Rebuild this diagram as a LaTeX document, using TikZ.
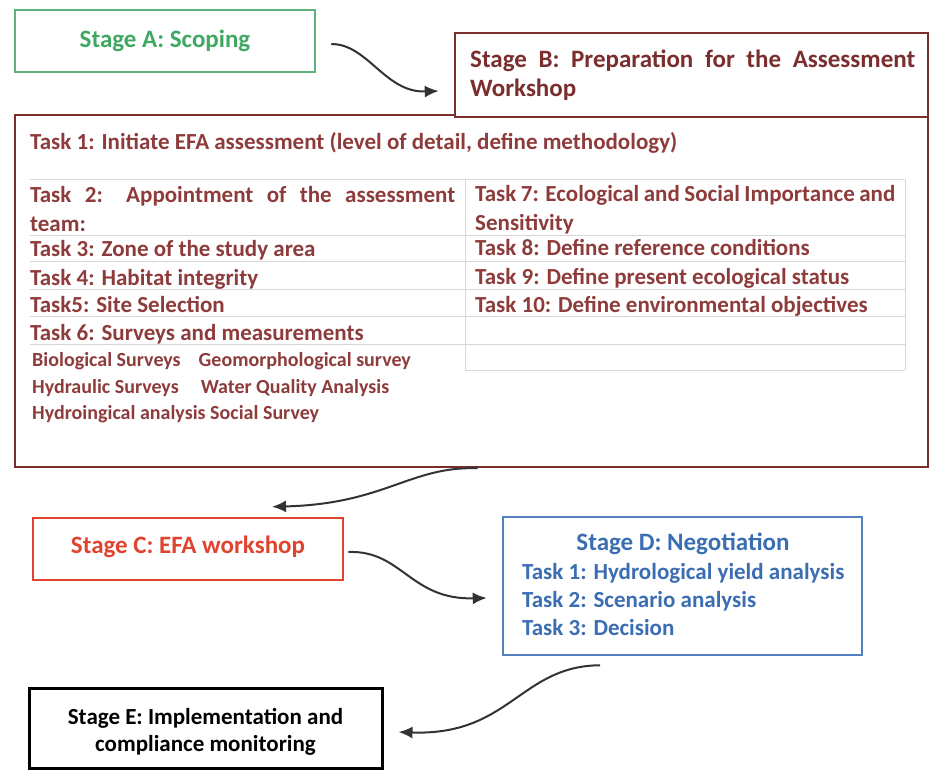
\documentclass[tikz,border=0pt]{standalone}
\usepackage{fontspec}
\setmainfont{Carlito}
\usetikzlibrary{arrows.meta}
\definecolor{agreen}{HTML}{3FA862}
\definecolor{agreenb}{HTML}{5DB37E}
\definecolor{bred}{HTML}{7A2E2E}
\definecolor{tred}{HTML}{8E3B3B}
\definecolor{cred}{HTML}{E0442E}
\definecolor{dblue}{HTML}{3B6DB3}
\definecolor{dblueb}{HTML}{5582BE}
\definecolor{gridc}{HTML}{D6D6D6}
\definecolor{arrowc}{HTML}{333333}
\begin{document}
\begin{tikzpicture}[x=1pt,y=-1pt,
  stagebox/.style={draw, line width=2.5pt, inner sep=0pt},
  txt/.style={font=\fontsize{23}{27}\selectfont\bfseries, inner sep=0pt, anchor=base west},
  bigtxt/.style={font=\fontsize{25}{28}\selectfont\bfseries, inner sep=0pt, anchor=base west},
  tasktxt/.style={txt, text=tred},
  smalltxt/.style={font=\fontsize{20}{24}\selectfont\bfseries, inner sep=0pt, anchor=base west, text=tred},
  flow/.style={draw=arrowc, line width=2pt, -{Latex[length=14pt,width=12pt]}},
  gridline/.style={draw=gridc, line width=1pt}]
\useasboundingbox (0,0) rectangle (933,775);

% boxes
\node[stagebox, draw=bred, minimum width=913pt, minimum height=352pt] (big) at (471.5,291) {};
\node[stagebox, draw=bred, fill=white, minimum width=473pt, minimum height=84pt] (B) at (691.5,75) {};
\node[stagebox, draw=agreenb, minimum width=300pt, minimum height=62pt] (A) at (165,41) {};
\node[stagebox, draw=cred, minimum width=310pt, minimum height=62pt] (C) at (188,549) {};
\node[stagebox, draw=dblueb, minimum width=359pt, minimum height=138pt] (D) at (682.5,586) {};
\node[stagebox, draw=black, line width=3pt, minimum width=353pt, minimum height=80pt] (E) at (205.5,728) {};

% grid of the task table
\foreach \yy in {180,236,262,289,316,344}
  \draw[gridline] (30,\yy) -- (905,\yy);
\draw[gridline] (465,370) -- (905,370);
\draw[gridline] (465,180) -- (465,370);
\draw[gridline] (905,180) -- (905,370);

% texts
\node[bigtxt, text=agreen, anchor=center] (tA) at (165,41) {Stage A: Scoping};
\node[bigtxt, text=bred] (tB1) at (470,68) {\makebox[445pt][s]{Stage B: Preparation for the Assessment}};
\node[bigtxt, text=bred] (tB2) at (470,97) {Workshop};

\node[tasktxt] (t1) at (30,150) {Task 1: Initiate EFA assessment (level of detail, define methodology)};
\node[tasktxt] (t2) at (30,203) {\makebox[425pt][s]{Task 2: Appointment of the assessment}};
\node[tasktxt] (t2b) at (30,232) {team:};
\node[tasktxt] (t3) at (30,257) {Task 3: Zone of the study area};
\node[tasktxt] (t4) at (30,285) {Task 4: Habitat integrity};
\node[tasktxt] (t5) at (30,312) {Task5: Site Selection};
\node[tasktxt] (t6) at (30,340) {Task 6: Surveys and measurements};
\node[smalltxt] (s1) at (32,366) {Biological Surveys\hspace{18pt}Geomorphological survey};
\node[smalltxt] (s2) at (32,393) {Hydraulic Surveys\hspace{22pt}Water Quality Analysis};
\node[smalltxt] (s3) at (32,419) {Hydroingical analysis Social Survey};

\node[tasktxt] (t7) at (475,202) {\makebox[420pt][s]{Task 7: Ecological and Social Importance and}};
\node[tasktxt] (t7b) at (475,231) {Sensitivity};
\node[tasktxt] (t8) at (475,256) {Task 8: Define reference conditions};
\node[tasktxt] (t9) at (475,284) {Task 9: Define present ecological status};
\node[tasktxt] (t10) at (475,312) {Task 10: Define environmental objectives};

\node[bigtxt, text=cred, anchor=center] (tC) at (188,547) {Stage C: EFA workshop};

\node[bigtxt, text=dblue, anchor=center] (tD) at (683,544) {Stage D: Negotiation};
\node[txt, text=dblue] (d1) at (522,579) {Task 1: Hydrological yield analysis};
\node[txt, text=dblue] (d2) at (522,607) {Task 2: Scenario analysis};
\node[txt, text=dblue] (d3) at (522,635) {Task 3: Decision};

\node[txt, text=black, anchor=center, align=center] (tE) at (205.5,732) {Stage E: Implementation and\\compliance monitoring};

% connectors
\draw[flow] ([xshift=15pt,yshift=-3pt]A.east) .. controls (368,44) and (385,93) .. ([xshift=-15pt,yshift=-16pt]B.west);
\draw[flow] ([xshift=6pt]big.south) .. controls (410,466) and (385,504) .. ([xshift=84pt,yshift=10pt]C.north);
\draw[flow] ([xshift=4pt,yshift=-3pt]C.east) .. controls (402,550) and (410,600) .. ([xshift=-15pt,yshift=-12pt]D.west);
\draw[flow] ([xshift=-82.5pt,yshift=-9pt]D.south) .. controls (520,666) and (510,736) .. ([xshift=15pt,yshift=-4pt]E.east);
\end{tikzpicture}
\end{document}
